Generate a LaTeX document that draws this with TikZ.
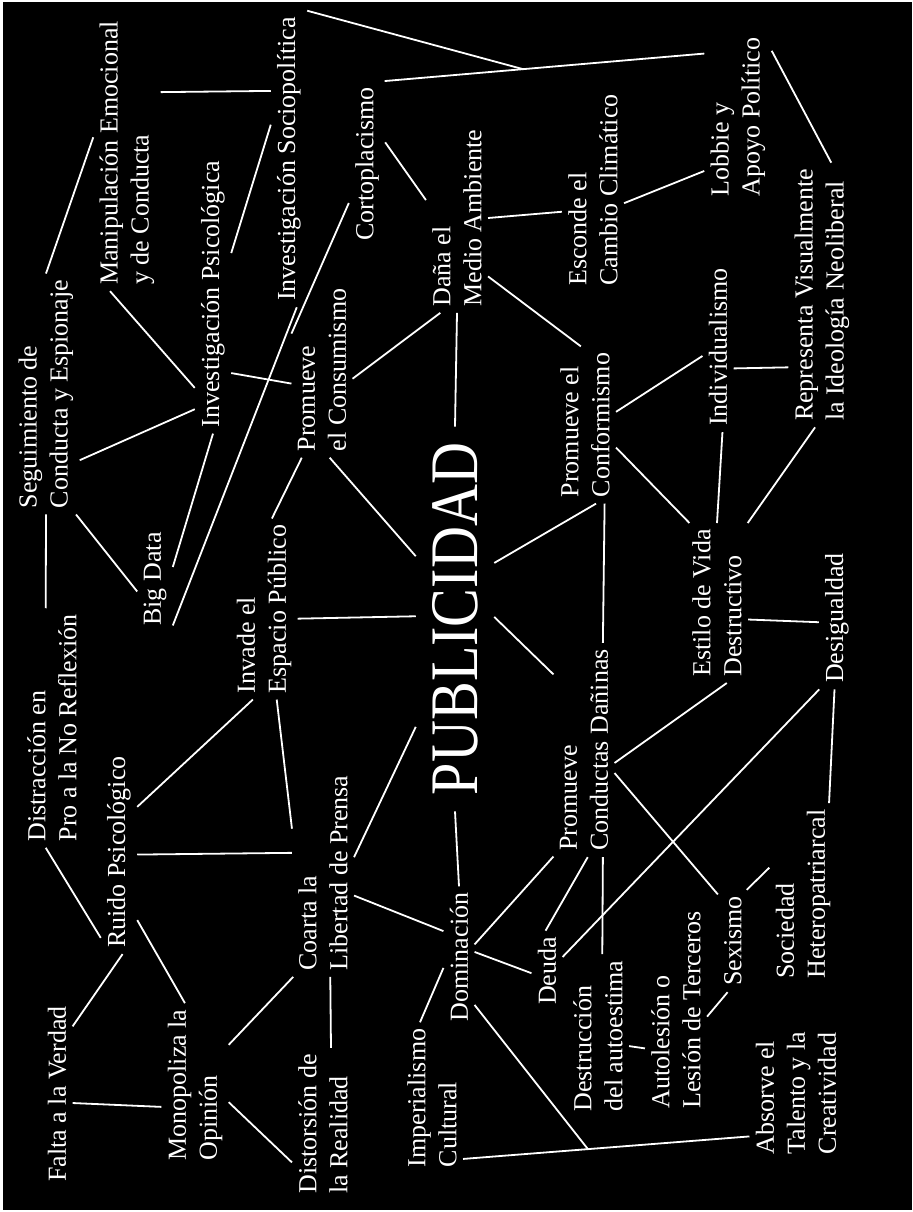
\documentclass[tikz,border=0pt]{standalone}
\usepackage{fontspec}
\setmainfont{Liberation Serif}
\usepackage{graphicx}
\usetikzlibrary{positioning,calc}

\begin{document}
\begin{tikzpicture}[x=0.5pt,y=-0.5pt]
    \tikzstyle{idea} = [rotate=90,align=left,text=white,inner sep=3pt,font=\fontsize{13}{15.5}\selectfont]
    \tikzstyle{core} = [rotate=90,text=white,inner sep=8pt,font=\fontsize{34}{34}\selectfont]
    \tikzstyle{link} = [white,line width=0.9pt]
      \useasboundingbox (0,0) rectangle (912,1212);
      \fill[white] (0,0) rectangle (912,1212);
      \fill[black] (3,2) rectangle (912,1210);
      \node[core] (pub) at (455,619) {\scalebox{0.855}[1]{PUBLICIDAD}};
      \node[idea] (falta) at (57,1094) {Falta a la Verdad};
      \node[idea] (ruido) at (119,852) {Ruido Psicológico};
      \node[idea] (distr) at (52,728) {Distracción en\\Pro a la No Reflexión};
      \node[idea] (segui) at (46,394) {Seguimiento de\\Conducta y Espionaje};
      \node[idea] (manip) at (127,153) {Manipulación Emocional\\y de Conducta};
      \node[idea] (invpsi) at (213,294) {Investigación Psicológica};
      \node[idea] (invsoc) at (289,159) {Investigación Sociopolítica};
      \node[idea] (bigdata) at (155,579) {Big Data};
      \node[idea] (invade) at (264,609) {Invade el\\Espacio Público};
      \node[idea] (consumo) at (322,370) {Promueve\\el Consumismo};
      \node[idea] (corto) at (367,164) {Cortoplacismo};
      \node[idea] (dana) at (457,218) {Daña el\\Medio Ambiente};
      \node[idea] (conform) at (585,425) {Promueve el\\Conformismo};
      \node[idea] (conductas) at (584,750) {Promueve\\Conductas Dañinas};
      \node[idea] (clima) at (593,190) {Esconde el\\Cambio Climático};
      \node[idea] (lobbie) at (738,117) {Lobbie y\\Apoyo Político};
      \node[idea] (indiv) at (718,347) {Individualismo};
      \node[idea] (neolib) at (822,295) {Representa Visualmente\\la Ideología Neoliberal};
      \node[idea] (estilo) at (717,603) {Estilo de Vida\\Destructivo};
      \node[idea] (desig) at (837,618) {Desigualdad};
      \node[idea] (coarta) at (323,873) {Coarta la\\Libertad de Prensa};
      \node[idea] (monop) at (195,1085) {Monopoliza la\\Opinión};
      \node[idea] (distor) at (323,1124) {Distorsión de\\la Realidad};
      \node[idea] (imper) at (432,1098) {Imperialismo\\Cultural};
      \node[idea] (domin) at (459,957) {Dominación};
      \node[idea] (deuda) at (547,971) {Deuda};
      \node[idea] (autoest) at (598,1036) {Destrucción\\del autoestima};
      \node[idea] (autoles) at (676,1010) {Autolesión o\\Lesión de Terceros};
      \node[idea] (sexismo) at (733,941) {Sexismo};
      \node[idea] (hetero) at (803,894) {Sociedad\\Heteropatriarcal};
      \node[idea] (talento) at (796,1093) {Absorve el\\Talento y la\\Creatividad};
      \draw[link] (corto.-12) -- coordinate[pos=0.433] (hubtop) (lobbie.28);
      \draw[link] (invsoc.-7) -- (hubtop);
      \draw[link] (imper.-153) -- coordinate[pos=0.436] (hubbot) (talento.133);
      \draw[link] (domin.-162) -- (hubbot);
      \foreach \a/\b in {manip.-29/invsoc.15, segui.0/manip.65, manip.173/invpsi.169, invpsi.-24/invsoc.28,
          corto.155/consumo.40, corto.-40/dana.60, consumo.-106/dana.170, invsoc.-177/bigdata.-159,
          invpsi.180/bigdata.-56, invpsi.-167/consumo.114, segui.-153/invpsi.171, segui.-166/bigdata.125,
          segui.180/distr.3, consumo.167/invade.-5, consumo.-175/pub.32, invade.-106/pub.86,
          ruido.-22/invade.173, invade.-172/coarta.35, coarta.-63/pub.160, pub.0/dana.180,
          pub.180/domin.0, dana.-152/conform.3, dana.-90/clima.125, clima.-113/lobbie.148,
          lobbie.-27/neolib.-4, pub.-35/conform.-172, pub.-87/conductas.22, conform.-166/conductas.-10,
          conform.-67/indiv.120, conform.-126/estilo.19, indiv.-177/estilo.0, indiv.-144/neolib.155,
          neolib.177/estilo.-21, estilo.-118/desig.103, conductas.-113/estilo.-173, desig.166/deuda.-48,
          conductas.-127/sexismo.18, sexismo.-15/hetero.52, sexismo.174/autoles.-102, hetero.-16/desig.178,
          conductas.-170/autoest.-3, autoest.-108/autoles.141, deuda.2/conductas.-178, domin.-51/conductas.164,
          domin.-72/deuda.98, coarta.-126/domin.31, imper.9/domin.125, monop.-40/coarta.164,
          monop.-117/distor.141, distor.-6/coarta.-176, ruido.-165/monop.7, ruido.-178/falta.-13,
          distr.177/ruido.168, falta.-120/monop.123, ruido.-98/coarta.57}
        \draw[link] (\a) -- (\b);
\end{tikzpicture}
\end{document}
